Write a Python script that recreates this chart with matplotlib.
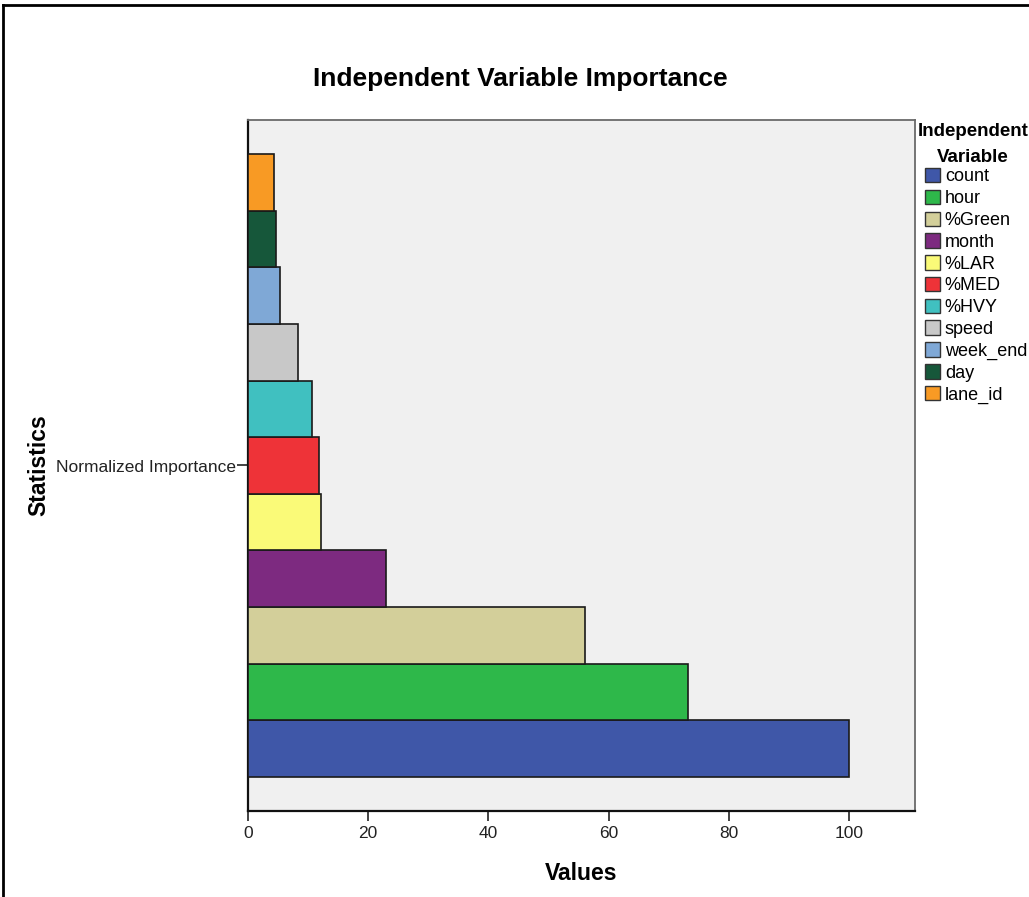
import matplotlib
matplotlib.use("Agg")
import matplotlib.pyplot as plt
from matplotlib.patches import Patch
from matplotlib.lines import Line2D

variables = ["count", "hour", "%Green", "month", "%LAR", "%MED", "%HVY",
             "speed", "week_end", "day", "lane_id"]
importance = [100.0, 73.2, 56.1, 22.9, 12.2, 11.8, 10.6, 8.4, 5.4, 4.7, 4.4]
colors = ["#3f57a8", "#2eb84a", "#d3cf9a", "#7d2a80", "#fafa78", "#ee3338",
          "#40c0c0", "#c8c8c8", "#7fa8d6", "#16573a", "#f89a24"]
stat_label = "Normalized Importance"
x_ticks = [0, 20, 40, 60, 80, 100]

plt.rcParams['font.family'] = ['Liberation Sans', 'DejaVu Sans']

W, H = 1029, 897
fig = plt.figure(figsize=(W/100, H/100), dpi=100)
fig.patch.set_facecolor("white")
ax = fig.add_axes([248/W, 1 - 811/H, (915-248)/W, (811-120)/H])
ax.set_facecolor("#f0f0f0")

positions = list(range(len(variables)))
ax.barh(positions, importance, height=1.0, color=colors,
        edgecolor="#1a1a1a", linewidth=1.2, zorder=3)

ax.set_xlim(0, 111)
ax.set_ylim(-1.1, 11.1)
ax.set_xticks(x_ticks)
ax.set_xticklabels([str(t) for t in x_ticks], fontsize=12.5)
ax.set_yticks([5])
ax.set_yticklabels([stat_label], fontsize=12.5)
ax.tick_params(axis='x', direction='out', length=7, width=1.2, colors='#222222', pad=4)
ax.tick_params(axis='y', direction='out', length=8, width=1.2, colors='#222222', pad=1)

for side in ["top", "right"]:
    ax.spines[side].set_color("#6a6a6a")
    ax.spines[side].set_linewidth(1.3)
for side in ["left", "bottom"]:
    ax.spines[side].set_color("#111111")
    ax.spines[side].set_linewidth(1.6)

ax.set_xlabel("Values", fontsize=16.5, fontweight="bold", labelpad=15)
ax.set_ylabel("Statistics", fontsize=16.5, fontweight="bold", labelpad=3.5)

fig.text(520/W, 1 - 79/H, "Independent Variable Importance",
         ha="center", va="center", fontsize=19, fontweight="bold")

# legend title
fig.text(973/W, 1 - 132/H, "Independent", ha="center", va="center",
         fontsize=13.5, fontweight="bold")
fig.text(973/W, 1 - 158/H, "Variable", ha="center", va="center",
         fontsize=13.5, fontweight="bold")

handles = [Patch(facecolor=c, edgecolor="#333333", linewidth=1.0) for c in colors]
leg = fig.legend(handles, variables, loc="upper left",
                 bbox_to_anchor=(925/W, 1 - 168/H),
                 frameon=False, fontsize=13, handlelength=0.85, handleheight=0.85,
                 handletextpad=0.25, labelspacing=0.24, borderpad=0, borderaxespad=0)

# figure frame
fig.add_artist(Line2D([3/W, 3/W], [0, 1 - 5/H], transform=fig.transFigure,
                      color="black", linewidth=2))
fig.add_artist(Line2D([3/W, 1], [1 - 5/H, 1 - 5/H], transform=fig.transFigure,
                      color="black", linewidth=2))

fig.savefig("out.png", dpi=100)
